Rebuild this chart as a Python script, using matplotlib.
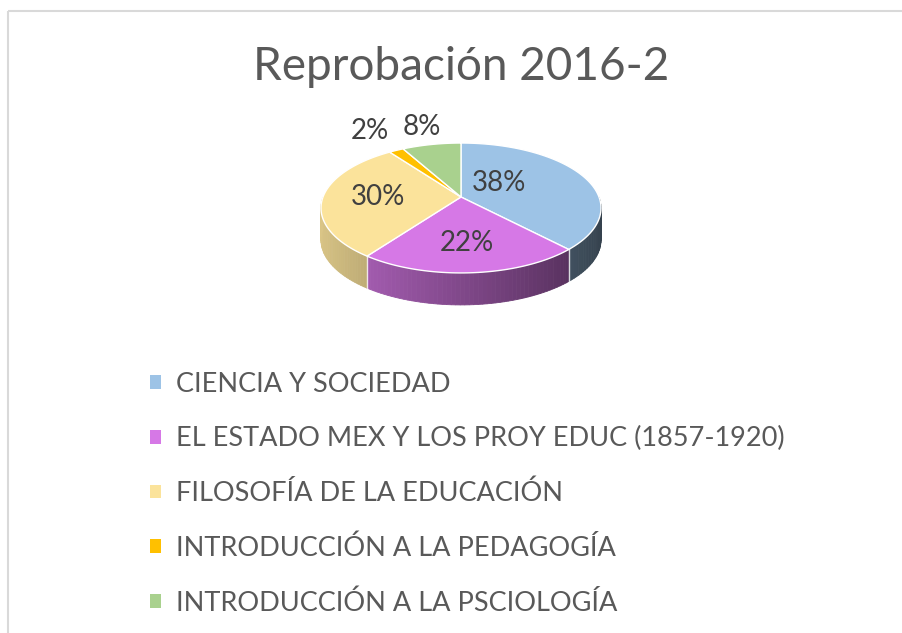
import numpy as np
import matplotlib
matplotlib.use('Agg')
import matplotlib.pyplot as plt
from matplotlib.patches import Polygon, Rectangle, Patch
from matplotlib.colors import to_rgb

plt.rcParams['font.family'] = ['Lato', 'DejaVu Sans']

# data
subjects = ['CIENCIA Y SOCIEDAD',
            'EL ESTADO MEX Y LOS PROY EDUC (1857-1920)',
            'FILOSOFÍA DE LA EDUCACIÓN',
            'INTRODUCCIÓN A LA PEDAGOGÍA',
            'INTRODUCCIÓN A LA PSCIOLOGÍA']
percents = [38, 22, 30, 2, 8]
colors = ['#9dc3e6', '#d678e6', '#fbe39b', '#ffc000', '#a9d18e']
label_radius = [0.3, 0.65, 0.6, 1.5, 1.4]   # where each % label sits

# pie geometry (pixels)
cx, cy = 461, 197
rx, ry = 138, 63.1
persp = 0.169
depth = 32


def proj(theta, r=1.0):
    """clockwise angle from the back of the pie -> screen point"""
    x = r * np.sin(theta)
    d = -r * np.cos(theta)
    s = 1.0 / (1.0 - persp * d)
    return cx + rx * x * s, cy + ry * d * s


def shade(col, x):
    f = 0.6 - 0.27 * x
    return tuple(np.clip(np.array(to_rgb(col)) * f, 0, 1))


fig = plt.figure(figsize=(9.02, 6.33), dpi=100)
ax = fig.add_axes([0, 0, 1, 1])
ax.set_xlim(0, 902)
ax.set_ylim(633, 0)
ax.axis('off')

# chart border
ax.add_patch(Rectangle((8, 11), 1000, 700, fill=False, ec='#d9d9d9', lw=1.5))

fracs = np.array(percents) / sum(percents)
edges = np.concatenate([[0], np.cumsum(fracs)]) * 2 * np.pi

# side walls (front half only), shaded left -> right
for i in range(len(percents)):
    a = max(edges[i], np.pi / 2)
    b = min(edges[i + 1], 3 * np.pi / 2)
    if b <= a:
        continue
    steps = np.linspace(a, b, max(int(np.degrees(b - a) / 1.5), 2))
    for t0, t1 in zip(steps[:-1], steps[1:]):
        x0, y0 = proj(t0)
        x1, y1 = proj(t1)
        c = shade(colors[i], np.sin((t0 + t1) / 2))
        ax.add_patch(Polygon([(x0, y0), (x1, y1), (x1, y1 + depth), (x0, y0 + depth)],
                             closed=True, fc=c, ec=c, lw=0.6))
# separators on the side
for e in edges:
    if np.pi / 2 < e < 3 * np.pi / 2:
        x0, y0 = proj(e)
        ax.plot([x0, x0], [y0, y0 + depth], color='white', lw=1, alpha=0.8)

# top faces
for i in range(len(percents)):
    ts = np.linspace(edges[i], edges[i + 1], 80)
    pts = [(cx, cy)] + [proj(t) for t in ts]
    ax.add_patch(Polygon(pts, closed=True, fc=colors[i], ec='white', lw=1.0))

# percentage labels
for i, p in enumerate(percents):
    mid = (edges[i] + edges[i + 1]) / 2
    lx, ly = proj(mid, label_radius[i])
    if i == 0:
        ly -= 7
    ax.text(lx, ly, f'{p}%', ha='center', va='center', fontsize=20, color='#404040')

# title
ax.text(461, 80, 'Reprobación 2016-2', ha='center', va='baseline', fontsize=33, color='#595959')

# legend
handles = [Patch(fc=c, ec='none') for c in colors]
ax.legend(handles, subjects, loc='upper left', bbox_to_anchor=(150 / 902, 1 - 372 / 633),
          frameon=False, fontsize=19.5, labelcolor='#595959', handlelength=0.4, handleheight=0.4,
          handletextpad=0.55, labelspacing=1.08, borderpad=0, borderaxespad=0)

fig.savefig('out.png', dpi=100)
